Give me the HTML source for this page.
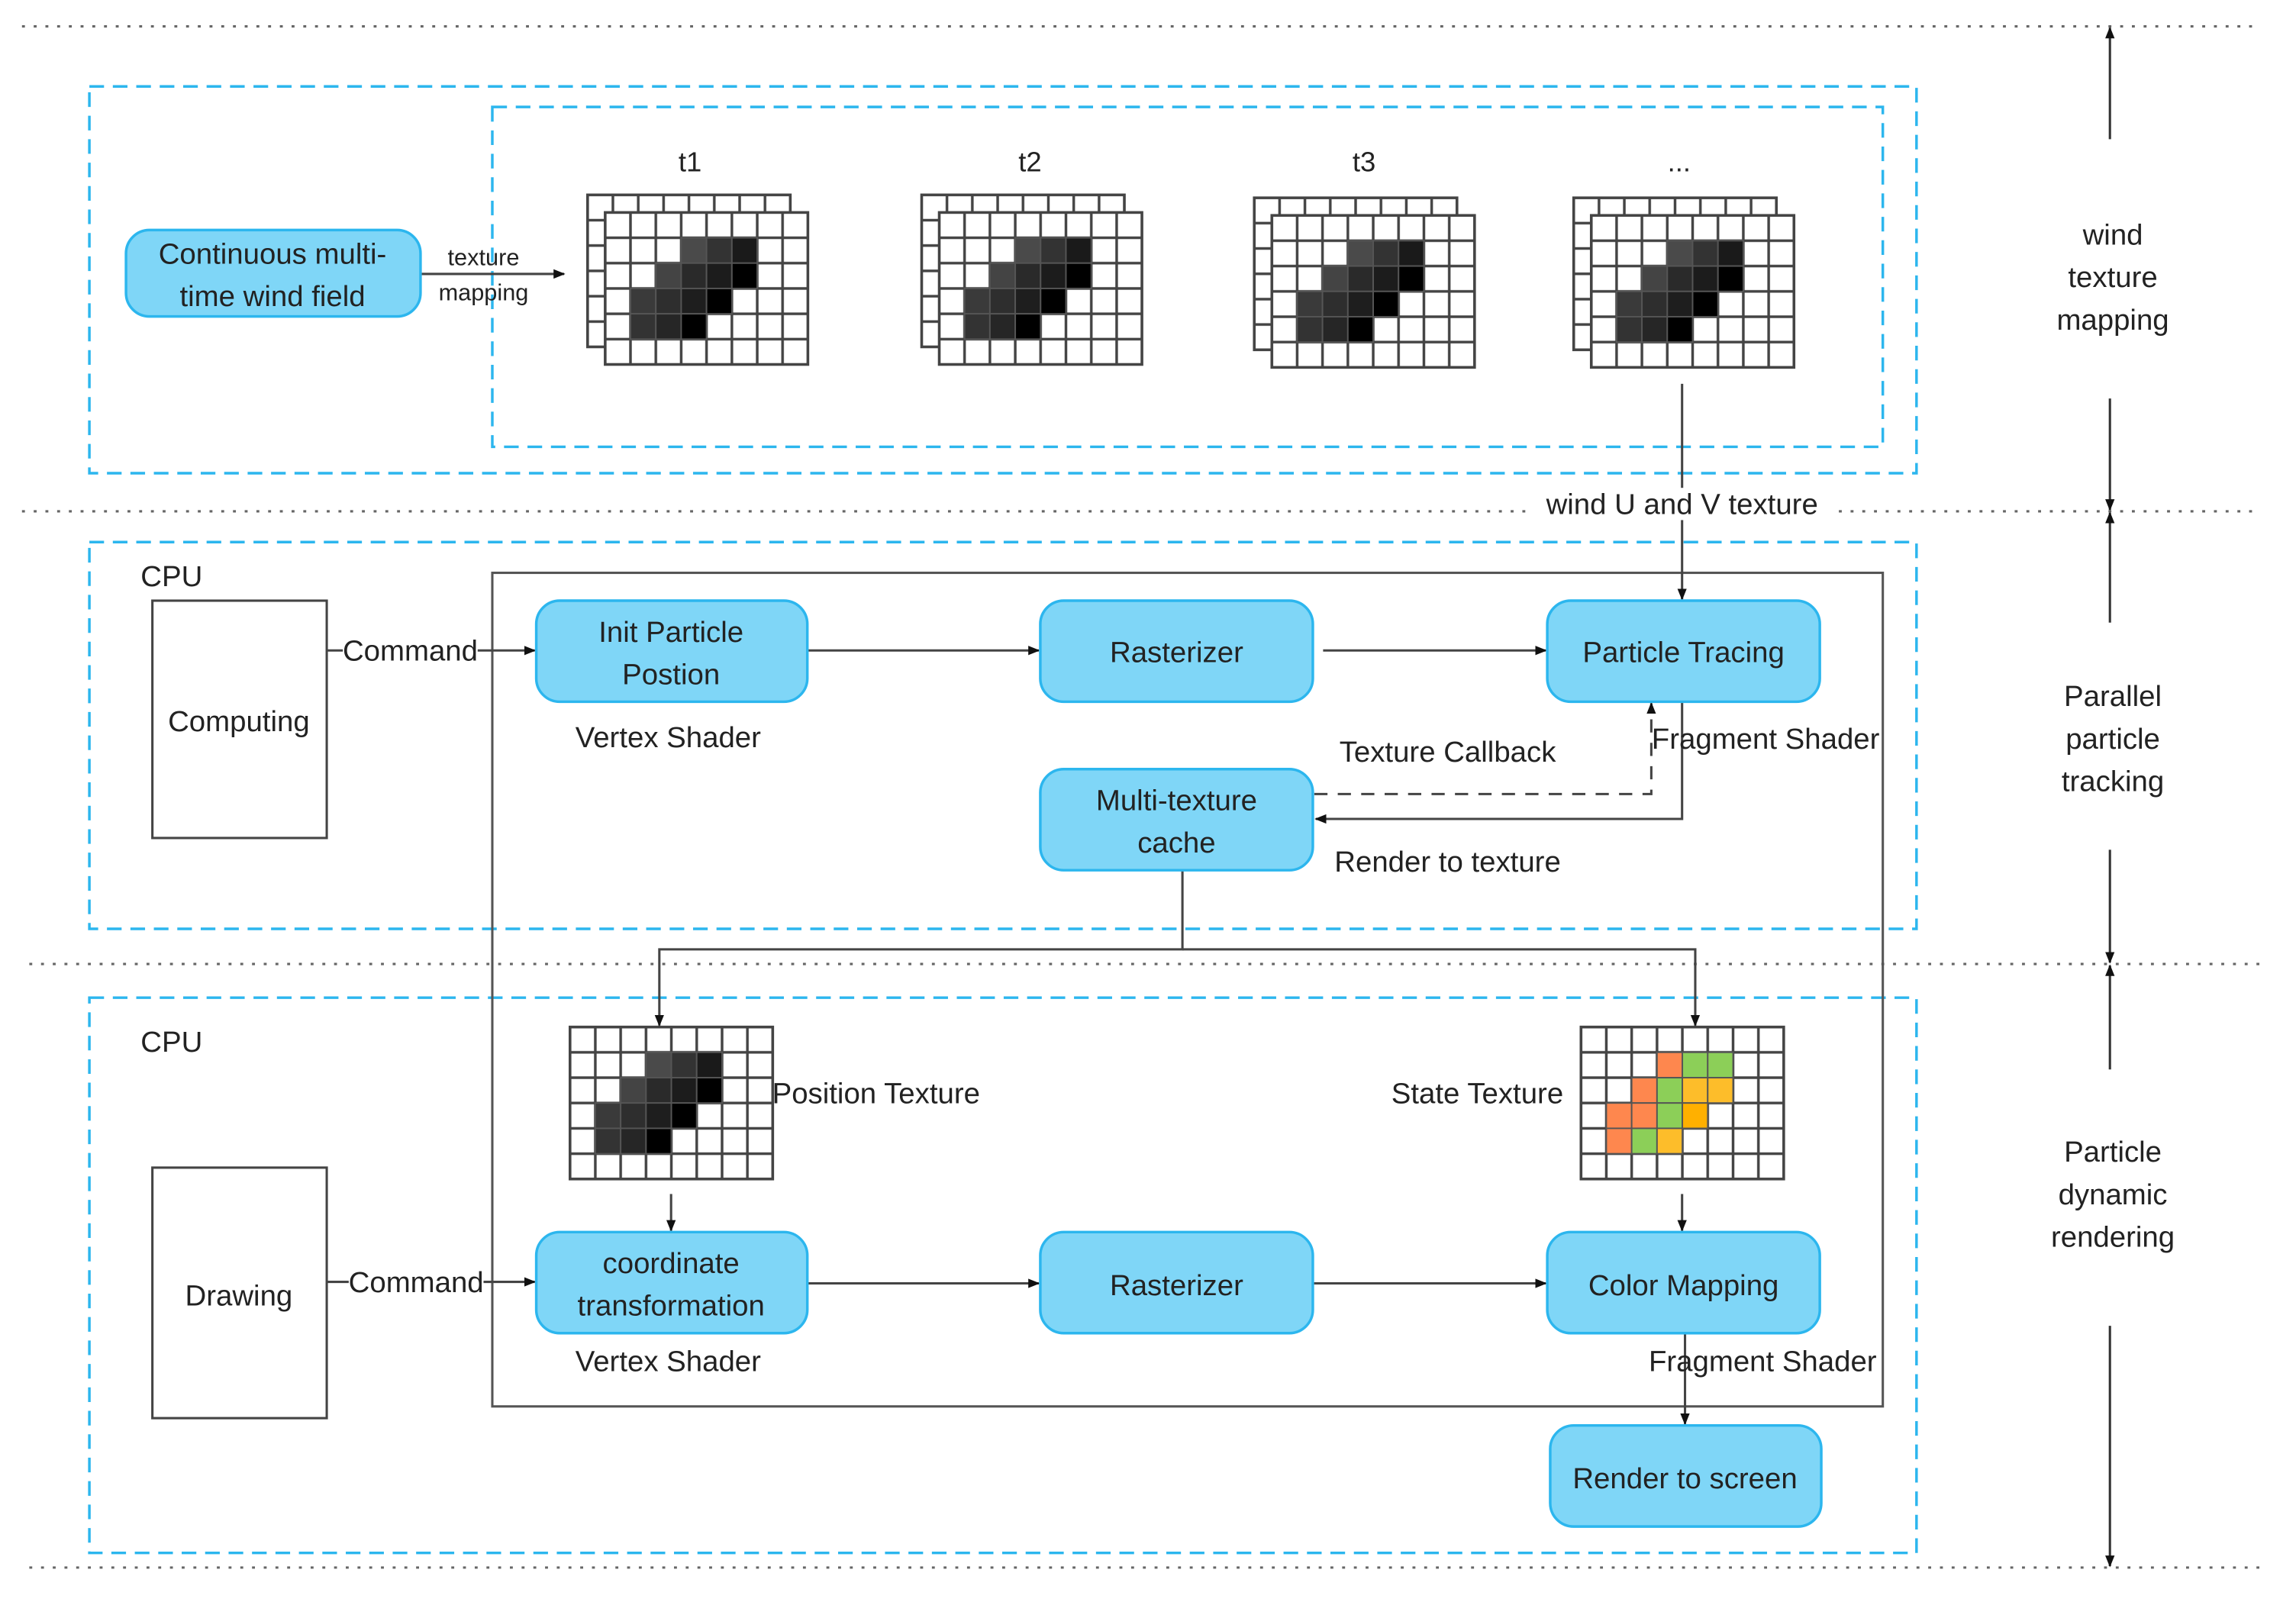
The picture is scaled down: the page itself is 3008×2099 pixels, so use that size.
<!DOCTYPE html>
<html><head><meta charset="utf-8"><style>
html,body{margin:0;padding:0;background:#fff}
svg{display:block}
text{font-family:"Liberation Sans","DejaVu Sans",sans-serif;fill:#222}
</style></head><body>
<svg width="3008" height="2099" viewBox="0 0 1567 1093.5" preserveAspectRatio="none" xmlns="http://www.w3.org/2000/svg">
<defs>
<pattern id="p" width="17.3" height="17.3" patternUnits="userSpaceOnUse"><rect width="17.3" height="17.3" fill="#fff" stroke="#444" stroke-width="1.8"/></pattern>
<pattern id="pb" width="17.3" height="17.3" patternUnits="userSpaceOnUse" x="-12" y="-12"><rect width="17.3" height="17.3" fill="#fff" stroke="#444" stroke-width="1.8"/></pattern>
<marker id="a" viewBox="0 0 10 10" refX="9" refY="5" markerWidth="5" markerHeight="5" orient="auto-start-reverse"><path d="M0,1L10,5L0,9z" fill="#111"/></marker>
<symbol id="dk" overflow="visible">
<g stroke="#555" stroke-width="1">
<rect x="51.9" y="17.3" width="17.3" height="17.3" fill="#4a4a4a"/><rect x="69.2" y="17.3" width="17.3" height="17.3" fill="#333"/><rect x="86.5" y="17.3" width="17.3" height="17.3" fill="#1a1a1a"/>
<rect x="34.6" y="34.6" width="17.3" height="17.3" fill="#444"/><rect x="51.9" y="34.6" width="17.3" height="17.3" fill="#2a2a2a"/><rect x="69.2" y="34.6" width="17.3" height="17.3" fill="#1c1c1c"/><rect x="86.5" y="34.6" width="17.3" height="17.3" fill="#000"/>
<rect x="17.3" y="51.9" width="17.3" height="17.3" fill="#3a3a3a"/><rect x="34.6" y="51.9" width="17.3" height="17.3" fill="#2e2e2e"/><rect x="51.9" y="51.9" width="17.3" height="17.3" fill="#1e1e1e"/><rect x="69.2" y="51.9" width="17.3" height="17.3" fill="#000"/>
<rect x="17.3" y="69.2" width="17.3" height="17.3" fill="#333"/><rect x="34.6" y="69.2" width="17.3" height="17.3" fill="#262626"/><rect x="51.9" y="69.2" width="17.3" height="17.3" fill="#000"/>
</g>
</symbol>
<symbol id="g" overflow="visible">
<rect x="-12" y="-12" width="138.4" height="103.8" fill="url(#pb)" stroke="#444" stroke-width="1.8"/>
<rect x="0" y="0" width="138.4" height="103.8" fill="url(#p)" stroke="#444" stroke-width="1.8"/>
<use href="#dk"/>
</symbol>
</defs>

<g stroke="#666" stroke-width="1.6" stroke-dasharray="2,6">
<line x1="15" y1="18" x2="1540" y2="18"/><line x1="15" y1="349" x2="1540" y2="349"/>
<line x1="20" y1="658" x2="1545" y2="658"/><line x1="20" y1="1070" x2="1545" y2="1070"/>
</g>

<g fill="none" stroke="#2cb6ee" stroke-width="1.8" stroke-dasharray="10,6">
<rect x="61" y="59" width="1247" height="264"/><rect x="336" y="73" width="949" height="232"/>
<rect x="61" y="370" width="1247" height="264"/><rect x="61" y="681" width="1247" height="379"/>
</g>
<rect x="336" y="391" width="949" height="569" fill="none" stroke="#555" stroke-width="1.6"/>

<g stroke="#333" stroke-width="1.6" marker-end="url(#a)">
<line x1="1440" y1="95" x2="1440" y2="19"/><line x1="1440" y1="272" x2="1440" y2="348"/>
<line x1="1440" y1="425" x2="1440" y2="350"/><line x1="1440" y1="580" x2="1440" y2="657"/>
<line x1="1440" y1="730" x2="1440" y2="659"/><line x1="1440" y1="905" x2="1440" y2="1069"/>
</g>
<g font-size="20" text-anchor="middle">
<text x="1442" y="167">wind</text><text x="1442" y="196">texture</text><text x="1442" y="225">mapping</text>
<text x="1442" y="482">Parallel</text><text x="1442" y="511">particle</text><text x="1442" y="540">tracking</text>
<text x="1442" y="793">Particle</text><text x="1442" y="822">dynamic</text><text x="1442" y="851">rendering</text>
</g>

<use href="#g" x="413" y="145"/><use href="#g" x="641" y="145"/><use href="#g" x="868" y="147"/><use href="#g" x="1086" y="147"/>
<g font-size="19" text-anchor="middle"><text x="471" y="117">t1</text><text x="703" y="117">t2</text><text x="931" y="117">t3</text><text x="1146" y="117">...</text></g>

<g transform="translate(389,701)">
<rect width="138.4" height="103.8" fill="url(#p)" stroke="#444" stroke-width="1.8"/>
<use href="#dk"/>
</g>
<g transform="translate(1079,701)">
<rect width="138.4" height="103.8" fill="url(#p)" stroke="#444" stroke-width="1.8"/>
<g stroke="#555" stroke-width="1">
<rect x="51.9" y="17.3" width="17.3" height="17.3" fill="#fe874e"/><rect x="69.2" y="17.3" width="17.3" height="17.3" fill="#8ccf58"/><rect x="86.5" y="17.3" width="17.3" height="17.3" fill="#8ccf58"/>
<rect x="34.6" y="34.6" width="17.3" height="17.3" fill="#fe874e"/><rect x="51.9" y="34.6" width="17.3" height="17.3" fill="#8ccf58"/><rect x="69.2" y="34.6" width="17.3" height="17.3" fill="#fdbd2a"/><rect x="86.5" y="34.6" width="17.3" height="17.3" fill="#fdbd2a"/>
<rect x="17.3" y="51.9" width="17.3" height="17.3" fill="#fe874e"/><rect x="34.6" y="51.9" width="17.3" height="17.3" fill="#fe874e"/><rect x="51.9" y="51.9" width="17.3" height="17.3" fill="#8ccf58"/><rect x="69.2" y="51.9" width="17.3" height="17.3" fill="#ffb000"/>
<rect x="17.3" y="69.2" width="17.3" height="17.3" fill="#fe874e"/><rect x="34.6" y="69.2" width="17.3" height="17.3" fill="#8ccf58"/><rect x="51.9" y="69.2" width="17.3" height="17.3" fill="#fdbd2a"/>
</g>
</g>

<rect x="104" y="410" width="119" height="162" fill="#fff" stroke="#444" stroke-width="1.6"/>
<rect x="104" y="797" width="119" height="171" fill="#fff" stroke="#444" stroke-width="1.6"/>

<g stroke="#444" stroke-width="1.6" fill="none">
<line x1="287" y1="187" x2="385" y2="187" marker-end="url(#a)"/>
<line x1="1148" y1="262" x2="1148" y2="409" marker-end="url(#a)"/>
<line x1="223" y1="444" x2="365" y2="444" marker-end="url(#a)"/>
<line x1="551" y1="444" x2="709" y2="444" marker-end="url(#a)"/>
<line x1="903" y1="444" x2="1055" y2="444" marker-end="url(#a)"/>
<path d="M897,542H1127V480" stroke-dasharray="9,7" marker-end="url(#a)"/>
<path d="M1148,479V559H898" marker-end="url(#a)"/>
<path d="M807,594V648H450V700" marker-end="url(#a)"/>
<path d="M807,648H1157V700" marker-end="url(#a)"/>
<line x1="458" y1="815" x2="458" y2="840" marker-end="url(#a)"/>
<line x1="1148" y1="815" x2="1148" y2="840" marker-end="url(#a)"/>
<line x1="223" y1="875" x2="365" y2="875" marker-end="url(#a)"/>
<line x1="551" y1="876" x2="709" y2="876" marker-end="url(#a)"/>
<line x1="896" y1="876" x2="1055" y2="876" marker-end="url(#a)"/>
<line x1="1150" y1="910" x2="1150" y2="972" marker-end="url(#a)"/>
</g>
<rect x="1045" y="333" width="208" height="22" fill="#fff"/>
<rect x="234" y="434" width="92" height="22" fill="#fff"/>
<rect x="238" y="865" width="92" height="22" fill="#fff"/>

<g fill="#7fd6f7" stroke="#2cb6ee" stroke-width="1.8">
<rect x="86" y="157" width="201" height="59" rx="16"/>
<rect x="366" y="410" width="185" height="69" rx="16"/>
<rect x="710" y="410" width="186" height="69" rx="16"/>
<rect x="1056" y="410" width="186" height="69" rx="16"/>
<rect x="710" y="525" width="186" height="69" rx="16"/>
<rect x="366" y="841" width="185" height="69" rx="16"/>
<rect x="710" y="841" width="186" height="69" rx="16"/>
<rect x="1056" y="841" width="186" height="69" rx="16"/>
<rect x="1058" y="973" width="185" height="69" rx="16"/>
</g>

<g font-size="20" text-anchor="middle">
<text x="186" y="180">Continuous multi-</text><text x="186" y="209">time wind field</text>
<text x="458" y="438">Init Particle</text><text x="458" y="467">Postion</text>
<text x="803" y="452">Rasterizer</text>
<text x="1149" y="452">Particle Tracing</text>
<text x="803" y="553">Multi-texture</text><text x="803" y="582">cache</text>
<text x="458" y="869">coordinate</text><text x="458" y="898">transformation</text>
<text x="803" y="884">Rasterizer</text>
<text x="1149" y="884">Color Mapping</text>
<text x="1150" y="1016">Render to screen</text>
<text x="163" y="499">Computing</text>
<text x="163" y="891">Drawing</text>
<text x="1148" y="351">wind U and V texture</text>
<text x="280" y="451">Command</text>
<text x="284" y="882">Command</text>
<text x="456" y="510">Vertex Shader</text>
<text x="456" y="936">Vertex Shader</text>
<text x="1205" y="511">Fragment Shader</text>
<text x="1203" y="936">Fragment Shader</text>
<text x="988" y="520">Texture Callback</text>
<text x="988" y="595">Render to texture</text>
</g>
<g font-size="20">
<text x="96" y="400">CPU</text><text x="96" y="718">CPU</text>
<text x="527" y="753">Position Texture</text>
<text x="1067" y="753" text-anchor="end">State Texture</text>
</g>
<g font-size="16" text-anchor="middle"><text x="330" y="181">texture</text><text x="330" y="205">mapping</text></g>
</svg>
</body></html>
